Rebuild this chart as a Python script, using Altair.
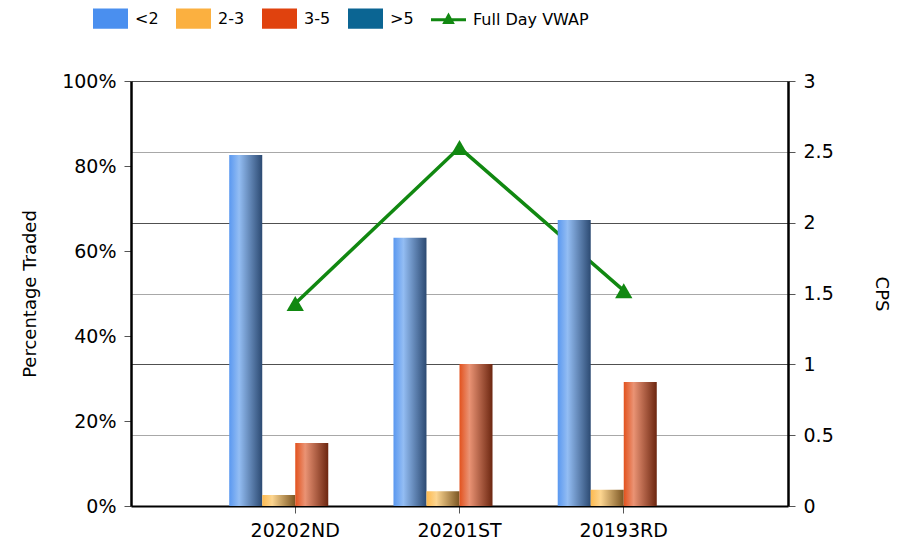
import altair as alt
import pandas as pd

periods = ["20202ND", "20201ST", "20193RD"]
series_names = ["<2", "2-3", "3-5", ">5"]
lt2 = [82.6, 63.1, 67.3]
b23 = [2.6, 3.5, 3.8]
b35 = [14.8, 33.4, 29.2]
gt5 = [0.0, 0.0, 0.0]
vwap = [1.43, 2.53, 1.52]
line_name = "Full Day VWAP"

legend_colors = ["#4A8FEF", "#FBB040", "#E0420E", "#0B6593", "#118811"]
gradients = {
    "<2": ["#5A98F0", "#93BDF3", "#2C4A72"],
    "2-3": ["#FDBA50", "#FCD590", "#7A5522"],
    "3-5": ["#E2521E", "#EA9374", "#6C2610"],
    ">5": ["#0B6593", "#4F93BB", "#06344D"],
}

FONT = "DejaVu Sans"

rows = []
for i, p in enumerate(periods):
    for s, vals in zip(series_names, [lt2, b23, b35, gt5]):
        rows.append({"period": p, "series": s, "value": vals[i]})
bars_df = pd.DataFrame(rows)
line_df = pd.DataFrame({"period": periods, "vwap": vwap})
legend_df = pd.DataFrame({"series": series_names + [line_name]})

x_enc = alt.X(
    "period:N",
    sort=periods,
    scale=alt.Scale(domain=periods, paddingInner=0.196, paddingOuter=0.598),
    axis=alt.Axis(
        title=None, labelAngle=0, labelFontSize=19, labelFont=FONT, labelColor="#000",
        domainColor="#000", domainWidth=2, tickColor="#555", tickSize=7,
        labelPadding=8, grid=False,
    ),
)

y_left = alt.Y(
    "value:Q",
    scale=alt.Scale(domain=[0, 100], nice=False),
    axis=alt.Axis(
        title="Percentage Traded", values=[0, 20, 40, 60, 80, 100],
        labelExpr="datum.value + '%'", labelFontSize=19, labelFont=FONT,
        labelColor="#000", titleFont=FONT, titleFontSize=18, titleFontWeight="normal",
        titleColor="#000", titlePadding=22, domainColor="#000", domainWidth=2.5,
        tickColor="#555", tickSize=7, labelPadding=8, grid=False,
    ),
)

bar_layers = []
for s in series_names:
    c0, c1, c2 = gradients[s]
    fill = {
        "gradient": "linear", "x1": 0, "x2": 1, "y1": 0, "y2": 0,
        "stops": [
            {"offset": 0, "color": c0},
            {"offset": 0.3, "color": c1},
            {"offset": 1, "color": c2},
        ],
    }
    layer = (
        alt.Chart(bars_df)
        .transform_filter(alt.datum.series == s)
        .transform_filter(alt.datum.value > 0)
        .mark_bar(fill=fill)
        .encode(
            x=x_enc,
            xOffset=alt.XOffset("series:N", scale=alt.Scale(domain=series_names, paddingInner=0, paddingOuter=0)),
            y=y_left,
        )
    )
    bar_layers.append(layer)

custom_rect = "M-1,-0.58H1V0.58H-1Z"
custom_line = "M-1,-0.09H1V0.09H-1Z M0,-0.42L0.36,0.24L-0.36,0.24Z"

legend_props = dict(
    title=None, orient="none", direction="horizontal",
    legendX=-38, legendY=-80, symbolSize=1225, symbolOpacity=1,
    symbolStrokeWidth=0, labelFont=FONT, labelFontSize=16,
    labelColor="#000", labelOffset=7, columnPadding=17, padding=0,
)

legend_layer = (
    alt.Chart(legend_df)
    .mark_point(filled=True, opacity=0)
    .encode(
        color=alt.Color(
            "series:N",
            scale=alt.Scale(domain=series_names + [line_name], range=legend_colors),
            legend=alt.Legend(**legend_props),
        ),
        shape=alt.Shape(
            "series:N",
            scale=alt.Scale(domain=series_names + [line_name],
                            range=[custom_rect] * 4 + [custom_line]),
            legend=alt.Legend(**legend_props),
        ),
    )
)

bars = alt.layer(*bar_layers, legend_layer)

y_right = alt.Y(
    "vwap:Q",
    scale=alt.Scale(domain=[0, 3], nice=False),
    axis=alt.Axis(
        title="CPS", orient="right", values=[0, 0.5, 1, 1.5, 2, 2.5, 3], format="~g",
        labelFontSize=19, labelFont=FONT, labelColor="#000",
        titleFont=FONT, titleFontSize=18, titleFontWeight="normal", titleColor="#000",
        titlePadding=38, domainColor="#000", domainWidth=2.5, tickColor="#555",
        tickSize=7, labelPadding=8, grid=True, gridWidth=1.2,
        gridColor={"condition": {"test": "datum.value % 1 === 0", "value": "#505050"},
                   "value": "#a8a8a8"},
    ),
)

line = (
    alt.Chart(line_df)
    .mark_line(color="#118811", strokeWidth=3.5,
               point=alt.OverlayMarkDef(shape="triangle-up", size=300, color="#118811", filled=True, opacity=1))
    .encode(x=x_enc, y=y_right)
)

chart = (
    alt.layer(line, bars)
    .resolve_scale(y="independent")
    .properties(
        width=657, height=425,
        autosize=alt.AutoSizeParams(type="none"),
        padding={"left": 123, "top": 73, "right": 116, "bottom": 38},
    )
    .configure_view(stroke=None)
    .configure(background="white")
)

chart.save("out.html", embed_options={"renderer": "svg", "actions": False})
